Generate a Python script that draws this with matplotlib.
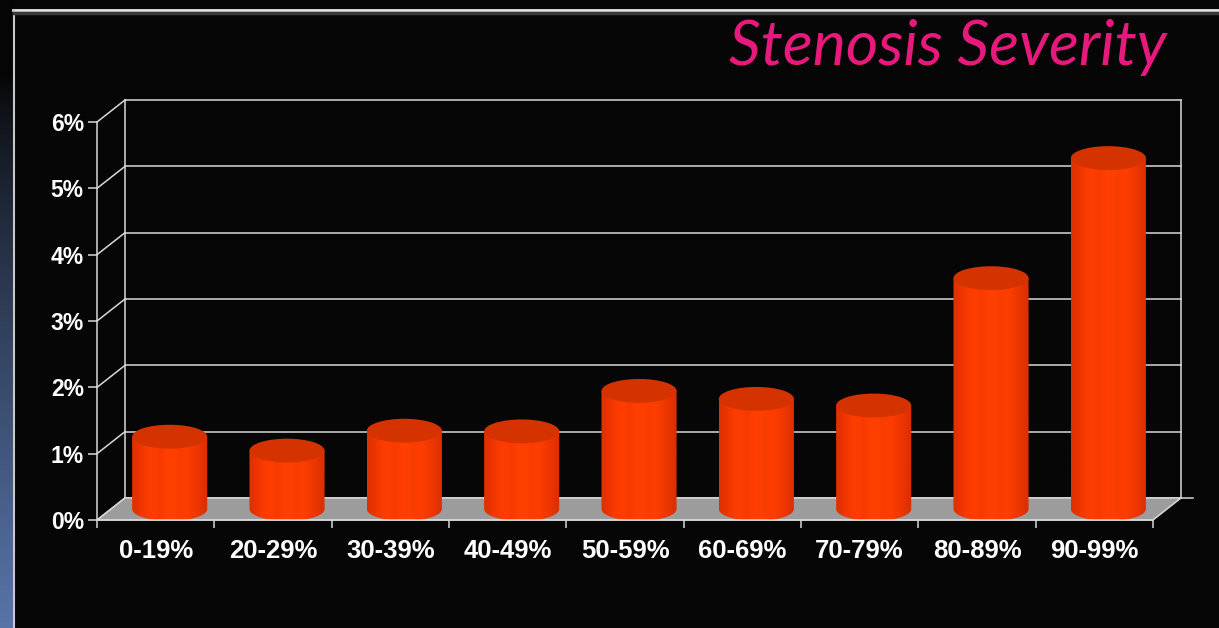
import matplotlib.pyplot as plt
import numpy as np
from matplotlib.colors import to_rgb
from matplotlib.lines import Line2D
from matplotlib.patches import Ellipse, PathPatch, Polygon
from matplotlib.path import Path

# data
categories = ['0-19%', '20-29%', '30-39%', '40-49%', '50-59%',
              '60-69%', '70-79%', '80-89%', '90-99%']
values = [1.09, 0.88, 1.18, 1.17, 1.78, 1.66, 1.56, 3.48, 5.29]
y_ticks = [0, 1, 2, 3, 4, 5, 6]
y_labels = ['0%', '1%', '2%', '3%', '4%', '5%', '6%']
title = 'Stenosis Severity'

# style
W, H = 1219, 628
bg = '#060606'
line_col = '#d8d8d8'
floor_col = '#9c9c9c'
top_col = '#d43300'
body_cols = ['#e23100', '#f03600', '#fb3b00', '#ff3d00', '#f73a00', '#ff3f00',
             '#ff4000', '#f93c00', '#ff3e00', '#f53a00', '#ec3600', '#dc3000']
DX, DY = 0.239, 0.332      # depth offset in data units
BW, EH = 0.64, 0.36        # cylinder width, ellipse height

fig = plt.figure(figsize=(W / 100, H / 100), dpi=100, facecolor=bg)

# left blue strip of the slide
strip = fig.add_axes([0, 0, 14 / W, 1])
g = np.linspace(0, 1, 256)[:, None]
g = np.clip((g - 0.12) / 0.88, 0, 1) ** 0.8
c0, c1 = np.array(to_rgb('#050505')), np.array(to_rgb('#5874a8'))
strip.imshow(c0 + (c1 - c0) * g[:, :, None], aspect='auto', extent=[0, 1, 0, 1], origin='upper')
strip.axis('off')

# slide frame
fig.add_artist(Line2D([13 / W, 1], [1 - 9.5 / H] * 2, color='#e8e8e8', lw=2))
fig.add_artist(Line2D([14 / W] * 2, [0, 1 - 9.5 / H], color='#c8c8c8', lw=1.5))
fig.add_artist(Line2D([14 / W, 1], [1 - 12.5 / H] * 2, color='#3a3a3a', lw=2.5))

# chart axes (front plane)
ax = fig.add_axes([97 / W, 108 / H, 1056 / W, 398 / H])
ax.set_facecolor('none')
n = len(categories)

# back wall grid + side wall diagonals
for v in y_ticks:
    ax.plot([DX, n + DX], [v + DY, v + DY], color=line_col, lw=1.1, zorder=0.5, clip_on=False)
    ax.plot([0, DX], [v, v + DY], color=line_col, lw=1.1, zorder=0.5, clip_on=False)
ax.plot([DX, DX], [DY, 6 + DY], color=line_col, lw=1.1, zorder=0.5, clip_on=False)
ax.plot([n + DX, n + DX], [DY, 6 + DY], color=line_col, lw=1.1, zorder=0.5, clip_on=False)
ax.plot([n + DX, n + DX + 0.1], [DY, DY], color=line_col, lw=1.1, zorder=0.5, clip_on=False)

# floor
ax.add_patch(Polygon([[0, 0], [n, 0], [n + DX, DY], [DX, DY]], closed=True,
                     facecolor=floor_col, edgecolor=line_col, lw=1.1, zorder=1, clip_on=False))

# cylinders
grad = np.array([to_rgb(c) for c in body_cols])[None, :, :]
for i, v in enumerate(values):
    cx = i + 0.5 + DX / 2
    yb = DY / 2
    yt = yb + v
    x0, x1 = cx - BW / 2, cx + BW / 2
    t = np.linspace(np.pi, 2 * np.pi, 60)
    arc = np.column_stack([cx + BW / 2 * np.cos(t), yb + EH / 2 * np.sin(t)])
    verts = np.vstack([[x0, yt], arc, [x1, yt], [x0, yt]])
    body = PathPatch(Path(verts), facecolor='none', edgecolor='none', transform=ax.transData)
    ax.add_patch(body)
    im = ax.imshow(grad, extent=[x0, x1, yb - EH / 2, yt], aspect='auto',
                   interpolation='bilinear', zorder=3)
    im.set_clip_path(body)
    ax.add_patch(Ellipse((cx, yt), BW, EH, facecolor=top_col, edgecolor='none', zorder=4))

ax.set_xlim(0, n)
ax.set_ylim(0, 6)
ax.set_aspect('auto')

# axes, ticks, labels
for s in ['top', 'right']:
    ax.spines[s].set_visible(False)
for s in ['left', 'bottom']:
    ax.spines[s].set_color(line_col)
    ax.spines[s].set_linewidth(1.1)
    ax.spines[s].set_zorder(5)

ax.set_yticks(y_ticks, labels=y_labels)
ax.tick_params(axis='y', colors=line_col, length=6.5, width=1.1, pad=3, labelcolor='white')
for lab in ax.get_yticklabels():
    lab.set_fontfamily(['Liberation Sans', 'DejaVu Sans'])
    lab.set_fontweight('bold')
    lab.set_fontsize(16.5)

ax.set_xticks(np.arange(n) + 0.5, labels=categories)
ax.set_xticks(np.arange(n + 1), minor=True)
ax.tick_params(axis='x', which='major', length=0, pad=14, labelcolor='white')
ax.tick_params(axis='x', which='minor', colors=line_col, length=6, width=1.1)
for lab in ax.get_xticklabels():
    lab.set_fontfamily(['Liberation Sans', 'DejaVu Sans'])
    lab.set_fontweight('bold')
    lab.set_fontsize(18.5)

fig.text(1167 / W, 1 - 65 / H, title, ha='right', va='baseline', color='#e8197d',
         fontsize=45, fontstyle='italic', family=['Lato', 'DejaVu Sans'])

plt.savefig('out.png', dpi=100, facecolor=bg)
